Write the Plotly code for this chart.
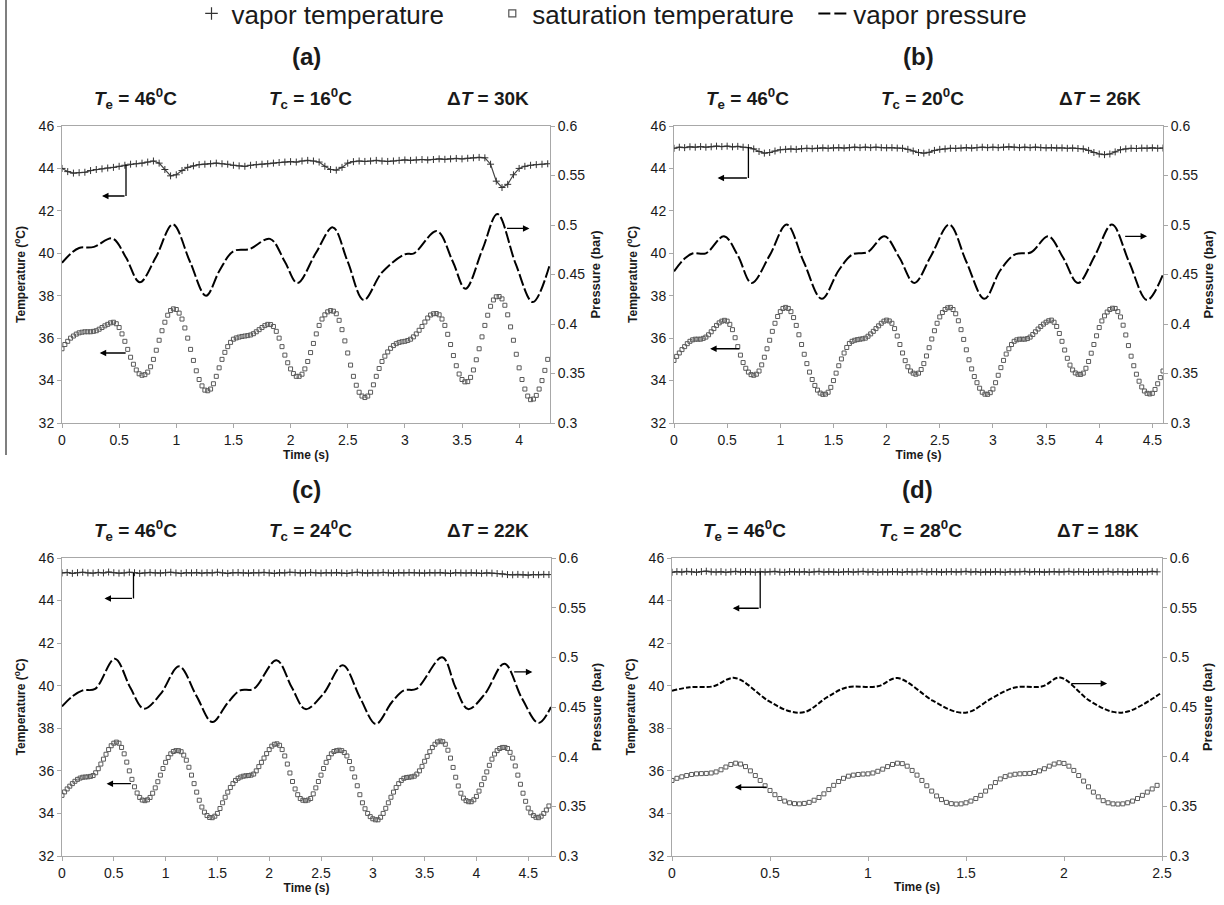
import plotly.graph_objects as go

W, H = 1224, 905

# ------------------------------------------------------------------ data
PANELS = ["(a)", "(b)", "(c)", "(d)"]
TE = 46
TC = [16, 20, 24, 28]
DT = [30, 26, 22, 18]
SERIES = ["vapor temperature", "saturation temperature", "vapor pressure"]

# sampling time bases (s)
TIME_VAP_A = [round(i * 0.05, 3) for i in range(86)]     # 0 .. 4.25
TIME_VAP_B = [round(i * 0.05, 3) for i in range(93)]     # 0 .. 4.60
TIME_VAP_C = [round(i * 0.05, 3) for i in range(95)]     # 0 .. 4.70
TIME_VAP_D = [round(i * 0.025, 3) for i in range(100)]   # 0 .. 2.475
TIME_SAT_A = [round(i * 0.025, 3) for i in range(171)]   # 0 .. 4.25
TIME_SAT_B = [round(i * 0.025, 3) for i in range(185)]   # 0 .. 4.60
TIME_SAT_C = [round(i * 0.025, 3) for i in range(189)]   # 0 .. 4.70
TIME_SAT_D = [round(i * 0.025, 3) for i in range(100)]   # 0 .. 2.475

# vapor temperature (deg C)
VAP_A = [44.00, 43.85, 43.78, 43.80, 43.82, 43.90, 43.95, 43.98, 44.02, 44.05,
         44.10, 44.15, 44.20, 44.22, 44.25, 44.30, 44.35, 44.25, 43.95, 43.65,
         43.70, 43.90, 44.05, 44.12, 44.18, 44.20, 44.22, 44.25, 44.22, 44.20,
         44.15, 44.12, 44.10, 44.15, 44.18, 44.20, 44.22, 44.25, 44.28, 44.30,
         44.32, 44.30, 44.35, 44.38, 44.35, 44.30, 44.10, 43.95, 43.92, 44.05,
         44.25, 44.32, 44.35, 44.33, 44.35, 44.38, 44.35, 44.33, 44.35, 44.38,
         44.40, 44.38, 44.40, 44.42, 44.40, 44.42, 44.45, 44.43, 44.45, 44.47,
         44.45, 44.48, 44.50, 44.52, 44.50, 44.20, 43.40, 43.10, 43.25, 43.70,
         44.00, 44.10, 44.15, 44.18, 44.20, 44.22]
VAP_B = [44.95, 45.00, 44.98, 45.02, 45.00, 45.03, 45.00, 45.02, 45.05, 45.03,
         45.05, 45.02, 45.04, 45.00, 44.98, 44.92, 44.80, 44.72, 44.75, 44.82,
         44.88, 44.90, 44.92, 44.90, 44.93, 44.95, 44.93, 44.95, 44.97, 44.95,
         44.97, 44.98, 44.96, 44.98, 45.00, 44.98, 45.00, 44.98, 45.00, 44.98,
         44.97, 44.98, 44.96, 44.95, 44.90, 44.82, 44.75, 44.72, 44.76, 44.85,
         44.90, 44.92, 44.95, 44.94, 44.96, 44.98, 44.96, 44.98, 45.00, 44.98,
         45.00, 44.98, 45.00, 45.02, 45.00, 44.98, 45.00, 44.98, 45.00, 44.98,
         44.97, 44.98, 44.96, 44.97, 44.95, 44.96, 44.94, 44.92, 44.85, 44.75,
         44.68, 44.65, 44.68, 44.78, 44.88, 44.92, 44.95, 44.94, 44.96, 44.95,
         44.97, 44.95, 44.96]
VAP_C = [45.30, 45.32, 45.28, 45.31, 45.33, 45.30, 45.29, 45.32, 45.30, 45.34,
         45.31, 45.29, 45.30, 45.33, 45.31, 45.28, 45.30, 45.32, 45.30, 45.29,
         45.31, 45.33, 45.30, 45.28, 45.31, 45.30, 45.32, 45.29, 45.31, 45.30,
         45.33, 45.30, 45.28, 45.31, 45.32, 45.30, 45.29, 45.31, 45.30, 45.32,
         45.30, 45.28, 45.31, 45.30, 45.33, 45.31, 45.29, 45.30, 45.32, 45.30,
         45.29, 45.31, 45.30, 45.32, 45.30, 45.28, 45.31, 45.33, 45.30, 45.29,
         45.31, 45.30, 45.32, 45.30, 45.29, 45.31, 45.30, 45.32, 45.31, 45.30,
         45.29, 45.31, 45.30, 45.32, 45.30, 45.28, 45.31, 45.30, 45.29, 45.31,
         45.30, 45.28, 45.30, 45.29, 45.27, 45.25, 45.22, 45.21, 45.23, 45.22,
         45.20, 45.22, 45.21, 45.23, 45.22]
VAP_D = [45.33, 45.36, 45.34, 45.37, 45.35, 45.33, 45.36, 45.38, 45.35, 45.34,
         45.36, 45.33, 45.35, 45.37, 45.34, 45.36, 45.35, 45.33, 45.36, 45.34,
         45.35, 45.37, 45.34, 45.33, 45.36, 45.35, 45.34, 45.36, 45.33, 45.35,
         45.37, 45.34, 45.36, 45.35, 45.33, 45.35, 45.36, 45.34, 45.35, 45.37,
         45.34, 45.36, 45.33, 45.35, 45.34, 45.36, 45.35, 45.33, 45.36, 45.34,
         45.35, 45.37, 45.34, 45.36, 45.35, 45.33, 45.35, 45.36, 45.34, 45.35,
         45.37, 45.34, 45.36, 45.33, 45.35, 45.34, 45.36, 45.35, 45.33, 45.36,
         45.34, 45.35, 45.37, 45.34, 45.36, 45.35, 45.33, 45.35, 45.36, 45.34,
         45.35, 45.37, 45.34, 45.36, 45.35, 45.33, 45.36, 45.34, 45.35, 45.37,
         45.34, 45.36, 45.35, 45.33, 45.35, 45.36, 45.34, 45.35, 45.37, 45.35]

# saturation temperature (deg C)
SAT_A = [35.50, 35.70, 35.85, 36.00, 36.10, 36.19, 36.25, 36.28, 36.30, 36.30,
         36.30, 36.32, 36.35, 36.42, 36.50, 36.58, 36.65, 36.72, 36.75, 36.68,
         36.50, 36.20, 35.85, 35.47, 35.10, 34.77, 34.50, 34.32, 34.25, 34.28,
         34.40, 34.65, 35.00, 35.43, 35.90, 36.35, 36.75, 37.08, 37.30, 37.38,
         37.35, 37.18, 36.90, 36.48, 36.00, 35.47, 34.95, 34.46, 34.05, 33.75,
         33.55, 33.52, 33.60, 33.85, 34.20, 34.60, 35.00, 35.33, 35.60, 35.80,
         35.95, 36.01, 36.05, 36.08, 36.10, 36.12, 36.15, 36.21, 36.30, 36.40,
         36.50, 36.59, 36.65, 36.64, 36.55, 36.32, 36.00, 35.60, 35.20, 34.84,
         34.55, 34.33, 34.20, 34.20, 34.30, 34.55, 34.90, 35.32, 35.75, 36.20,
         36.60, 36.90, 37.10, 37.24, 37.30, 37.27, 37.15, 36.84, 36.40, 35.87,
         35.30, 34.73, 34.20, 33.78, 33.45, 33.27, 33.20, 33.27, 33.45, 33.80,
         34.20, 34.57, 34.90, 35.15, 35.35, 35.52, 35.65, 35.74, 35.80, 35.83,
         35.85, 35.89, 35.95, 36.06, 36.20, 36.37, 36.55, 36.76, 36.95, 37.09,
         37.15, 37.16, 37.10, 36.90, 36.60, 36.18, 35.70, 35.18, 34.70, 34.31,
         34.05, 33.94, 33.95, 34.15, 34.50, 34.98, 35.50, 36.06, 36.60, 37.08,
         37.50, 37.80, 37.95, 37.96, 37.85, 37.55, 37.10, 36.53, 35.90, 35.24,
         34.60, 34.05, 33.60, 33.27, 33.10, 33.13, 33.30, 33.60, 34.00, 34.48,
         35.00]
SAT_B = [34.95, 35.14, 35.30, 35.46, 35.60, 35.74, 35.85, 35.92, 35.95, 35.95,
         35.95, 35.99, 36.05, 36.16, 36.30, 36.45, 36.60, 36.72, 36.80, 36.84,
         36.80, 36.65, 36.40, 36.02, 35.60, 35.20, 34.85, 34.58, 34.40, 34.28,
         34.25, 34.30, 34.45, 34.74, 35.10, 35.50, 35.90, 36.32, 36.70, 37.02,
         37.25, 37.40, 37.45, 37.40, 37.25, 36.97, 36.60, 36.16, 35.70, 35.24,
         34.80, 34.40, 34.05, 33.77, 33.55, 33.41, 33.35, 33.36, 33.45, 33.68,
         34.00, 34.35, 34.70, 35.02, 35.30, 35.56, 35.75, 35.85, 35.90, 35.93,
         35.95, 35.97, 36.00, 36.09, 36.20, 36.32, 36.45, 36.58, 36.70, 36.80,
         36.85, 36.81, 36.70, 36.45, 36.10, 35.70, 35.30, 34.94, 34.65, 34.45,
         34.35, 34.30, 34.35, 34.52, 34.80, 35.16, 35.55, 35.96, 36.35, 36.70,
         37.00, 37.21, 37.35, 37.43, 37.45, 37.35, 37.15, 36.82, 36.40, 35.94,
         35.45, 34.98, 34.55, 34.19, 33.90, 33.64, 33.45, 33.36, 33.35, 33.43,
         33.60, 33.90, 34.25, 34.61, 34.95, 35.25, 35.50, 35.70, 35.85, 35.92,
         35.95, 35.95, 35.95, 35.98, 36.05, 36.17, 36.30, 36.43, 36.55, 36.66,
         36.75, 36.82, 36.85, 36.75, 36.55, 36.22, 35.85, 35.44, 35.05, 34.73,
         34.50, 34.36, 34.30, 34.29, 34.35, 34.58, 34.90, 35.29, 35.70, 36.11,
         36.50, 36.81, 37.05, 37.23, 37.35, 37.41, 37.40, 37.25, 37.00, 36.61,
         36.15, 35.65, 35.15, 34.70, 34.30, 33.97, 33.70, 33.51, 33.40, 33.37,
         33.40, 33.58, 33.85, 34.14, 34.45]
SAT_C = [34.85, 35.01, 35.15, 35.28, 35.40, 35.51, 35.60, 35.66, 35.70, 35.71,
         35.72, 35.74, 35.78, 35.91, 36.10, 36.32, 36.55, 36.78, 37.00, 37.18,
         37.30, 37.35, 37.30, 37.10, 36.80, 36.41, 36.00, 35.60, 35.25, 34.96,
         34.75, 34.63, 34.60, 34.64, 34.75, 34.95, 35.20, 35.49, 35.80, 36.11,
         36.40, 36.63, 36.80, 36.91, 36.95, 36.95, 36.90, 36.74, 36.50, 36.17,
         35.80, 35.40, 35.00, 34.62, 34.30, 34.06, 33.90, 33.81, 33.80, 33.87,
         34.00, 34.23, 34.50, 34.76, 35.00, 35.22, 35.40, 35.55, 35.65, 35.71,
         35.75, 35.77, 35.78, 35.80, 35.85, 36.00, 36.20, 36.40, 36.60, 36.81,
         37.00, 37.16, 37.25, 37.27, 37.20, 37.00, 36.70, 36.32, 35.90, 35.50,
         35.15, 34.88, 34.70, 34.62, 34.60, 34.63, 34.70, 34.92, 35.20, 35.50,
         35.80, 36.11, 36.40, 36.63, 36.80, 36.91, 36.95, 36.97, 36.95, 36.86,
         36.70, 36.44, 36.10, 35.71, 35.30, 34.88, 34.50, 34.22, 34.00, 33.85,
         33.75, 33.70, 33.70, 33.82, 34.00, 34.24, 34.50, 34.76, 35.00, 35.22,
         35.40, 35.55, 35.65, 35.69, 35.70, 35.72, 35.75, 35.85, 36.00, 36.21,
         36.45, 36.68, 36.90, 37.10, 37.25, 37.36, 37.40, 37.37, 37.25, 36.97,
         36.60, 36.16, 35.70, 35.29, 34.95, 34.72, 34.60, 34.55, 34.55, 34.64,
         34.80, 35.05, 35.35, 35.65, 35.95, 36.26, 36.55, 36.79, 36.95, 37.05,
         37.10, 37.10, 37.05, 36.87, 36.60, 36.23, 35.80, 35.37, 34.95, 34.57,
         34.25, 34.03, 33.90, 33.82, 33.80, 33.87, 34.00, 34.16, 34.35]
SAT_D = [35.55, 35.65, 35.72, 35.78, 35.83, 35.86, 35.87, 35.88, 35.90, 35.95,
         36.05, 36.18, 36.30, 36.36, 36.32, 36.20, 36.00, 35.78, 35.55, 35.30,
         35.08, 34.88, 34.70, 34.58, 34.50, 34.46, 34.45, 34.47, 34.52, 34.62,
         34.75, 34.92, 35.12, 35.32, 35.50, 35.65, 35.75, 35.80, 35.83, 35.85,
         35.86, 35.90, 35.98, 36.08, 36.20, 36.30, 36.36, 36.34, 36.22, 36.02,
         35.80, 35.55, 35.30, 35.05, 34.82, 34.65, 34.52, 34.46, 34.44, 34.45,
         34.50, 34.58, 34.70, 34.85, 35.05, 35.25, 35.45, 35.62, 35.73, 35.80,
         35.84, 35.86, 35.87, 35.88, 35.92, 36.00, 36.10, 36.22, 36.32, 36.38,
         36.35, 36.22, 36.02, 35.78, 35.52, 35.25, 35.00, 34.78, 34.60, 34.50,
         34.45, 34.44, 34.45, 34.50, 34.58, 34.70, 34.85, 35.00, 35.15, 35.32]

# vapor pressure (bar), read at turning points
PT_A = [0, 0.08, 0.15, 0.28, 0.44, 0.56, 0.68, 0.82, 0.97, 1.12, 1.26, 1.38, 1.50, 1.64,
        1.82, 1.95, 2.06, 2.22, 2.37, 2.50, 2.64, 2.80, 3.00, 3.08, 3.28, 3.42, 3.53,
        3.68, 3.81, 3.97, 4.12, 4.27]
P_A = [0.4618, 0.4714, 0.4768, 0.4779, 0.4864, 0.4671, 0.4421, 0.4671, 0.5007, 0.4629,
       0.4286, 0.4543, 0.4736, 0.4757, 0.4860, 0.4629, 0.4414, 0.4714, 0.4976, 0.4629,
       0.4243, 0.4521, 0.4704, 0.4714, 0.4939, 0.4629, 0.4356, 0.4757, 0.5111, 0.4607,
       0.4221, 0.4607]
PT_B = [0, 0.10, 0.18, 0.30, 0.47, 0.60, 0.73, 0.90, 1.06, 1.22, 1.39, 1.55, 1.68, 1.82,
        1.98, 2.12, 2.26, 2.42, 2.59, 2.75, 2.92, 3.07, 3.21, 3.36, 3.52, 3.66, 3.80,
        3.96, 4.12, 4.28, 4.45, 4.60]
P_B = [0.4532, 0.4661, 0.4714, 0.4714, 0.4886, 0.4693, 0.4414, 0.4693, 0.5004, 0.4629,
       0.4254, 0.4543, 0.4704, 0.4725, 0.4886, 0.4671, 0.4414, 0.4693, 0.5004, 0.4629,
       0.4254, 0.4543, 0.4704, 0.4725, 0.4886, 0.4671, 0.4414, 0.4693, 0.5004, 0.4629,
       0.4243, 0.4500]
PT_C = [0, 0.10, 0.20, 0.32, 0.51, 0.66, 0.79, 0.95, 1.13, 1.30, 1.45, 1.60, 1.72, 1.85,
        2.07, 2.22, 2.35, 2.52, 2.71, 2.88, 3.03, 3.18, 3.30, 3.42, 3.67, 3.80, 3.92,
        4.08, 4.27, 4.44, 4.60, 4.72]
P_C = [0.4506, 0.4607, 0.4667, 0.4682, 0.4986, 0.4693, 0.4483, 0.4629, 0.4909, 0.4607,
       0.4348, 0.4543, 0.4667, 0.4682, 0.4971, 0.4693, 0.4479, 0.4629, 0.4920, 0.4586,
       0.4329, 0.4543, 0.4667, 0.4682, 0.5000, 0.4693, 0.4479, 0.4629, 0.4936, 0.4586,
       0.4339, 0.4500]
PT_D = [0, 0.09, 0.21, 0.32, 0.49, 0.60, 0.68, 0.79, 0.89, 1.05, 1.15, 1.33, 1.45, 1.52,
        1.63, 1.75, 1.89, 1.98, 2.13, 2.25, 2.33, 2.49]
P_D = [0.4663, 0.4699, 0.4708, 0.4793, 0.4564, 0.4457, 0.4451, 0.4596, 0.4697, 0.4708,
       0.4791, 0.4564, 0.4451, 0.4453, 0.4586, 0.4697, 0.4708, 0.4796, 0.4564, 0.4451,
       0.4457, 0.4633]

TIMES_VAP = [TIME_VAP_A, TIME_VAP_B, TIME_VAP_C, TIME_VAP_D]
TIMES_SAT = [TIME_SAT_A, TIME_SAT_B, TIME_SAT_C, TIME_SAT_D]
VAPS = [VAP_A, VAP_B, VAP_C, VAP_D]
SATS = [SAT_A, SAT_B, SAT_C, SAT_D]
PTS = [PT_A, PT_B, PT_C, PT_D]
PRES = [P_A, P_B, P_C, P_D]
X_MAX = [4.27, 4.6, 4.72, 2.5]

# arrow annotations: vapor (vertical x, top T, bottom T, head x); others (tail, head, T)
VAP_ARROW = [(0.56, 44.2, 42.7, 0.35), (0.70, 45.0, 43.55, 0.41),
             (0.69, 45.3, 44.1, 0.41), (0.45, 45.35, 43.64, 0.31)]
PRES_ARROW = [(3.88, 4.09, 41.17), (4.23, 4.45, 40.8), (4.35, 4.54, 40.65), (2.03, 2.22, 40.1)]
SAT_ARROW = [(0.57, 0.33, 35.3), (0.63, 0.34, 35.5), (0.68, 0.43, 35.4), (0.49, 0.32, 35.23)]

# ------------------------------------------------------------------ layout helpers
FONT = "Liberation Sans, Arial, sans-serif"
AX_GRAY = "#a8a8a8"
TXT = "#1a1a1a"
DASHES = ["12px,3px", "12px,3px", "12px,3px", "5px,2px"]

# pixel boxes of the four plot areas (left, right, top, bottom)
BOXES = [(62, 550, 126, 423), (674, 1163, 126, 423),
         (62, 551, 558, 856), (672, 1162, 558, 856)]


def fx(px):
    return px / W


def fy(py):
    return 1 - py / H


fig = go.Figure()
layout = dict(
    width=W, height=H,
    margin=dict(l=0, r=0, t=0, b=0, autoexpand=False),
    paper_bgcolor="white", plot_bgcolor="white",
    font=dict(family=FONT, color=TXT),
    showlegend=True,
    legend=dict(orientation="h", x=0.5, xanchor="center", y=1.011, yanchor="top",
                font=dict(size=26, family=FONT, color=TXT),
                bgcolor="rgba(0,0,0,0)", itemwidth=30, tracegroupgap=0),
)
annotations = []
shapes = []

for i in range(4):
    n = i + 1
    xa = "x" if n == 1 else f"x{n}"
    ya = "y" if n == 1 else f"y{n}"
    ya2 = f"y{n + 4}"
    l, r, t, b = BOXES[i]
    xdom = [fx(l), fx(r)]
    ydom = [fy(b), fy(t)]

    layout["xaxis" if n == 1 else f"xaxis{n}"] = dict(
        domain=xdom, anchor=ya, range=[0, X_MAX[i]], dtick=0.5, tick0=0,
        showline=True, linecolor=AX_GRAY, linewidth=1, mirror=True,
        ticks="outside", ticklen=4, tickcolor=AX_GRAY, showgrid=False, zeroline=False,
        tickfont=dict(size=14, color=TXT),
        title=dict(text="<b>Time (s)</b>", font=dict(size=12, color=TXT), standoff=2),
        automargin=False,
    )
    layout["yaxis" if n == 1 else f"yaxis{n}"] = dict(
        domain=ydom, anchor=xa, range=[32, 46], dtick=2, tick0=32,
        showline=True, linecolor=AX_GRAY, linewidth=1,
        ticks="outside", ticklen=4, tickcolor=AX_GRAY, showgrid=False, zeroline=False,
        tickfont=dict(size=14, color=TXT),
        title=dict(text="<b>Temperature (<sup>o</sup>C)</b>", font=dict(size=12, color=TXT),
                   standoff=10),
        automargin=False,
    )
    layout[f"yaxis{n + 4}"] = dict(
        overlaying=ya, anchor=xa, side="right", range=[0.3, 0.6], dtick=0.05, tick0=0.3,
        showline=True, linecolor=AX_GRAY, linewidth=1,
        ticks="outside", ticklen=4, tickcolor=AX_GRAY, showgrid=False, zeroline=False,
        tickfont=dict(size=14, color=TXT),
        title=dict(text="<b>Pressure (bar)</b>", font=dict(size=13, color=TXT), standoff=6),
        automargin=False,
    )

    # traces
    fig.add_trace(go.Scatter(
        x=PTS[i], y=PRES[i], xaxis=xa, yaxis=ya2, mode="lines", showlegend=False,
        line=dict(color="black", width=2, dash=DASHES[i], shape="spline", smoothing=1.0),
        hoverinfo="skip"))
    fig.add_trace(go.Scatter(
        x=TIMES_SAT[i], y=SATS[i], xaxis=xa, yaxis=ya, mode="markers", showlegend=False,
        marker=dict(symbol="square-open", size=4, color="#5a5a5a",
                    line=dict(width=1, color="#5a5a5a")),
        hoverinfo="skip"))
    fig.add_trace(go.Scatter(
        x=TIMES_VAP[i], y=VAPS[i], xaxis=xa, yaxis=ya, mode="lines+markers", showlegend=False,
        line=dict(color="#444444", width=1.2),
        marker=dict(symbol="cross-thin", size=5, line=dict(width=1, color="#333333")),
        hoverinfo="skip"))

    # panel letters and condition titles
    cx = (l + r) / 2
    annotations.append(dict(xref="paper", yref="paper", x=fx(cx), y=fy(t - 69),
                            text=f"<b>{PANELS[i]}</b>", showarrow=False,
                            font=dict(size=24, color=TXT), xanchor="center", yanchor="middle"))
    row_y = fy(t - 28)
    titles = [f"<b><i>T</i><sub>e</sub> = {TE}<sup>0</sup>C</b>",
              f"<b><i>T</i><sub>c</sub> = {TC[i]}<sup>0</sup>C</b>",
              f"<b>\u0394<i>T</i> = {DT[i]}K</b>"]
    offs = [73, 248, 426]
    for txt, o in zip(titles, offs):
        annotations.append(dict(xref="paper", yref="paper", x=fx(l + o), y=row_y, text=txt,
                                showarrow=False, font=dict(size=19, color=TXT),
                                xanchor="center", yanchor="middle"))

    # arrows
    vx, vtop, vbot, vhead = VAP_ARROW[i]
    shapes.append(dict(type="line", xref=xa, yref=ya, x0=vx, x1=vx, y0=vtop, y1=vbot,
                       line=dict(color="black", width=1.3)))
    annotations.append(dict(xref=xa, yref=ya, axref=xa, ayref=ya, x=vhead, y=vbot,
                            ax=vx, ay=vbot, text="", showarrow=True, arrowhead=2,
                            arrowsize=1, arrowwidth=1.3, arrowcolor="black"))
    pt, ph, pT = PRES_ARROW[i]
    annotations.append(dict(xref=xa, yref=ya, axref=xa, ayref=ya, x=ph, y=pT,
                            ax=pt, ay=pT, text="", showarrow=True, arrowhead=2,
                            arrowsize=1, arrowwidth=1.3, arrowcolor="black"))
    st, sh, sT = SAT_ARROW[i]
    annotations.append(dict(xref=xa, yref=ya, axref=xa, ayref=ya, x=sh, y=sT,
                            ax=st, ay=sT, text="", showarrow=True, arrowhead=2,
                            arrowsize=1, arrowwidth=1.3, arrowcolor="black"))

# legend-only entries
fig.add_trace(go.Scatter(x=[None], y=[None], mode="markers", name=SERIES[0] + "\u00a0" * 6,
                         marker=dict(symbol="cross-thin", size=9, line=dict(width=1.2, color="#333333"))))
fig.add_trace(go.Scatter(x=[None], y=[None], mode="markers", name=SERIES[1] + "\u00a0" * 2,
                         marker=dict(symbol="square-open", size=7, color="#555555",
                                     line=dict(width=1.2, color="#555555"))))
fig.add_trace(go.Scatter(x=[None], y=[None], mode="lines", name=SERIES[2],
                         line=dict(color="black", width=2, dash="12px,4px")))

# thin vertical border line at the far left of the source figure
shapes.append(dict(type="line", xref="paper", yref="paper", x0=fx(6), x1=fx(6),
                   y0=1, y1=fy(455), line=dict(color="#555555", width=1.5)))

layout["annotations"] = annotations
layout["shapes"] = shapes
fig.update_layout(**layout)
fig.write_html("out.html")
